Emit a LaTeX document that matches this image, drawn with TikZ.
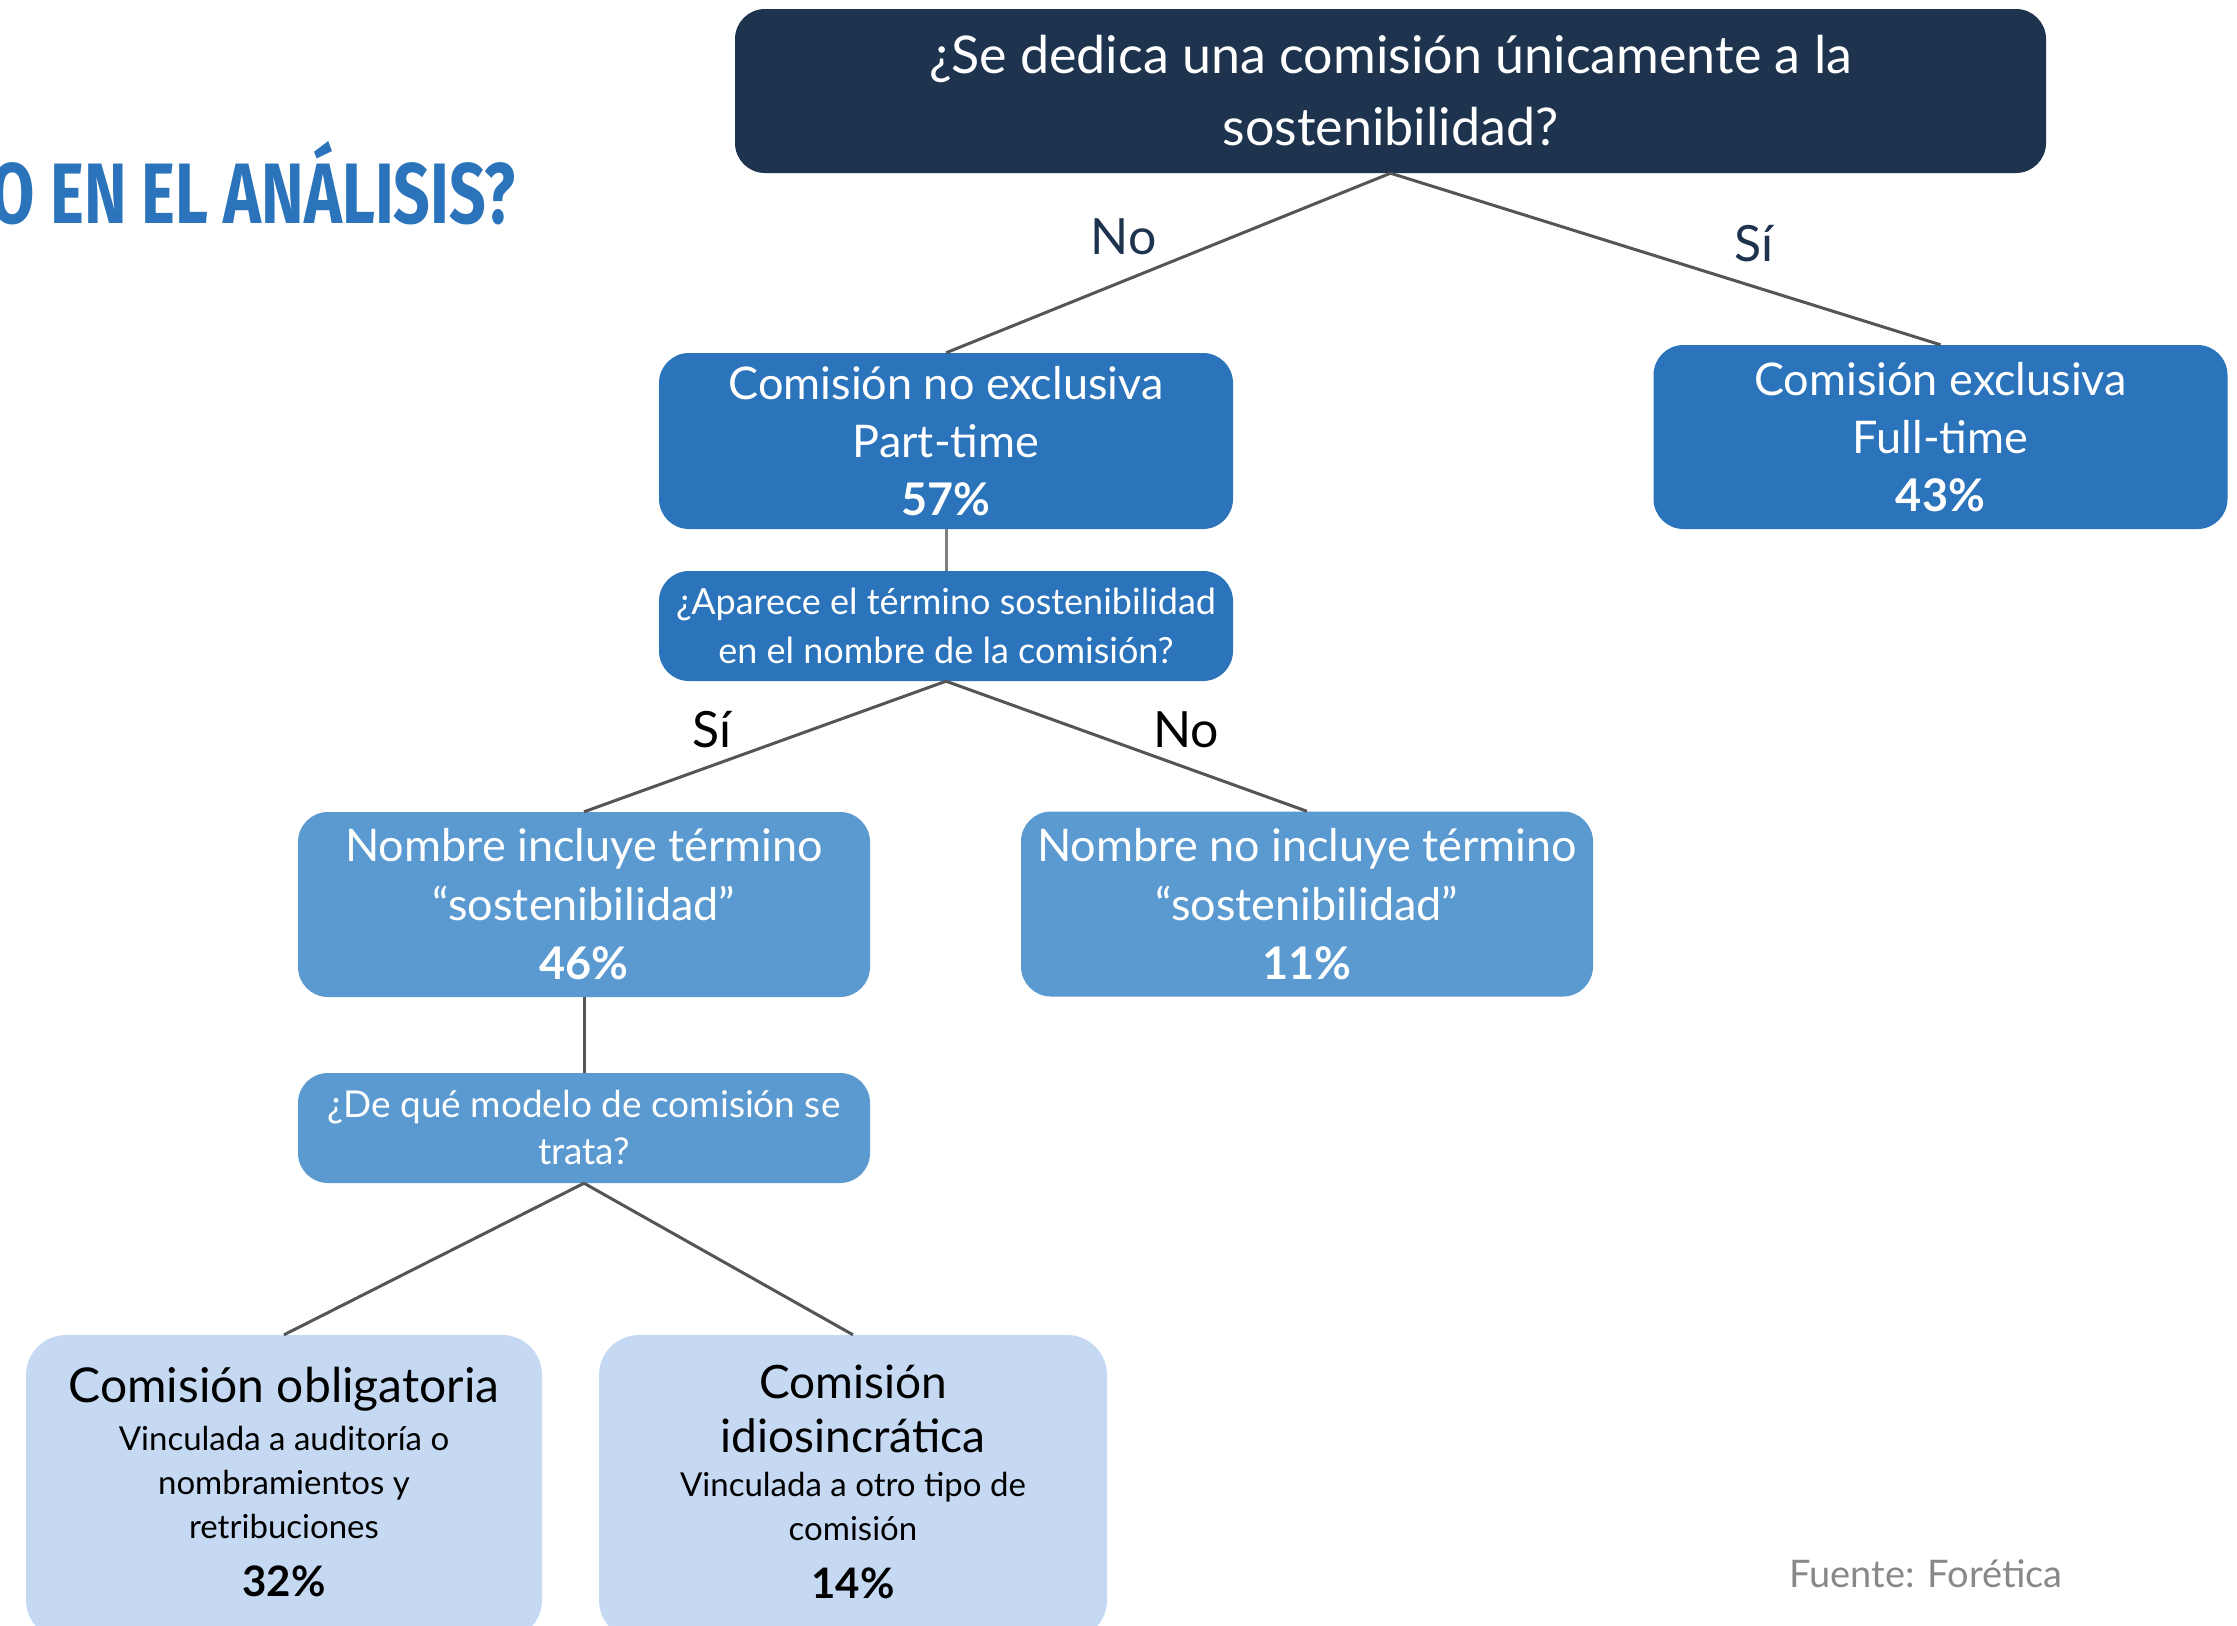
\documentclass[tikz,border=0pt]{standalone}
\usepackage{fontspec}
\setmainfont{Lato}
\newfontfamily\headfont{Fira Sans}
\usetikzlibrary{positioning}
\definecolor{navy}{RGB}{30,51,78}
\definecolor{midblue}{RGB}{43,116,187}
\definecolor{lightblue}{RGB}{90,154,208}
\definecolor{paleblue}{RGB}{197,217,243}
\definecolor{linegray}{RGB}{85,85,85}
\definecolor{srcgray}{RGB}{136,136,136}

\begin{document}
\begin{tikzpicture}[x=1pt, y=-1pt,
    box/.style={rounded corners=30pt, align=center, inner sep=0pt, text=white},
    question/.style={box, fill=navy, minimum width=1311pt, minimum height=164pt, font=\fontsize{52}{72}\selectfont},
    branch/.style={box, fill=midblue, minimum width=574pt, minimum height=176pt, font=\fontsize{45}{58}\selectfont},
    subq/.style={box, fill=midblue, minimum width=574pt, minimum height=110pt, font=\fontsize{36}{49}\selectfont},
    result/.style={box, fill=lightblue, minimum width=572pt, minimum height=185pt, font=\fontsize{45}{59}\selectfont},
    leaf/.style={box, rounded corners=40pt, fill=paleblue, text=black, minimum width=516pt, minimum height=305pt, font=\fontsize{33}{44}\selectfont},
    link/.style={draw=linegray, line width=3pt},
    lbl/.style={font=\fontsize{50}{54}\selectfont, text=navy}
]
\useasboundingbox (0,0) rectangle (2237,1625);
\clip (0,0) rectangle (2237,1625);
\fill[white] (0,0) rectangle (2237,1625);

% title fragment
\node[anchor=south east, inner sep=0pt, text=midblue] (head) at (516,225)
    {\resizebox{525pt}{82pt}{\headfont\bfseries O EN EL ANÁLISIS?}};

% tree
\node[question] (q1) at (1390.5,91) {¿Se dedica una comisión únicamente a la\\sostenibilidad?};
\node[branch] (part) at (946,441) {Comisión no exclusiva\\Part-time\\\textbf{57\%}};
\node[branch, minimum height=184pt] (full) at (1940.5,437) {Comisión exclusiva\\Full-time\\\textbf{43\%}};
\node[subq] (q2) at (946,626) {¿Aparece el término sostenibilidad\\en el nombre de la comisión?};
\node[result] (incl) at (584,904.5) {Nombre incluye término\\“sostenibilidad”\\\textbf{46\%}};
\node[result] (noincl) at (1307,904) {Nombre no incluye término\\“sostenibilidad”\\\textbf{11\%}};
\node[subq, fill=lightblue, minimum width=572pt, font=\fontsize{37}{47}\selectfont] (q3) at (584,1128) {¿De qué modelo de comisión se\\trata?};
\node[leaf] (oblig) at (284,1487.5) {{\fontsize{48}{50}\selectfont Comisión obligatoria}\\[4pt]
    Vinculada a auditoría o\\nombramientos y\\retribuciones\\[14pt]
    {\fontsize{42}{44}\selectfont\bfseries 32\%}\rule[-12pt]{0pt}{12pt}};
\node[leaf, minimum width=508pt] (idio) at (853,1487.5) {{\fontsize{46}{50}\selectfont Comisión}\\[10pt]
    {\fontsize{46}{50}\selectfont idiosincrática}\\[0pt]
    Vinculada a otro tipo de\\comisión\\[14pt]
    {\fontsize{42}{44}\selectfont\bfseries 14\%}\rule[-12pt]{0pt}{12pt}};

\draw[link] (q1.south) -- node[lbl, pos=.6, yshift=44pt] {No} (part.north);
\draw[link] (q1.south) -- node[lbl, pos=.66, yshift=43pt] {Sí} (full.north);
\draw[link, draw=gray] (part) -- (q2);
\draw[link] (q2.south) -- node[lbl, text=black, pos=.646, yshift=36pt] {Sí} (incl.north);
\draw[link] (q2.south) -- node[lbl, text=black, pos=.665, yshift=38pt] {No} (noincl.north);
\draw[link] (incl) -- (q3);
\draw[link] (q3.south) -- (oblig.north);
\draw[link] (q3.south) -- (idio.north);

\node[font=\fontsize{38}{40}\selectfont, text=srcgray] (src) at (1926,1574) {Fuente: Forética};
\end{tikzpicture}
\end{document}
